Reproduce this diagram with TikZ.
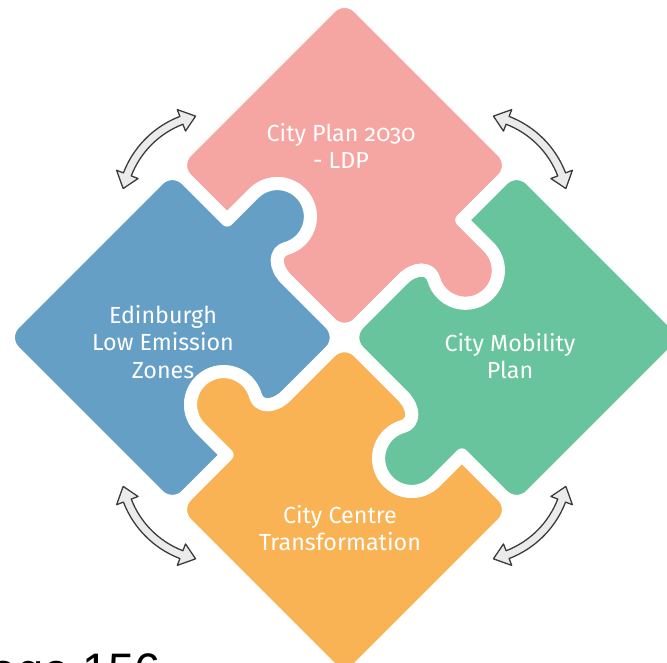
\documentclass[tikz,border=0pt]{standalone}
\usepackage{fontspec}
\setmainfont{Fira Sans}
\newfontfamily\arialfont{Liberation Sans}
\definecolor{pinkP}{HTML}{F5A6A3}
\definecolor{blueP}{HTML}{669FC5}
\definecolor{greenP}{HTML}{68C49C}
\definecolor{orangeP}{HTML}{F9B254}
\definecolor{arrowfill}{HTML}{EBEBEB}
\definecolor{arrowline}{HTML}{3C3C3C}
\tikzset{
  piecefill/.style={draw=white, line width=13pt, line join=round},
  label/.style={text=white, align=center, inner sep=0pt, font=\fontsize{23.3}{27.5}\selectfont},
  cyclearrow/.style={fill=arrowfill, draw=arrowline, line width=1.3pt, line join=round}
}
\begin{document}
\begin{tikzpicture}[x=1pt,y=1pt]
\useasboundingbox (0,0) rectangle (667,663);
\fill[white] (0,0) rectangle (667,663);
% puzzle pieces
\foreach \ang/\col in {45/pinkP,135/blueP,225/orangeP,315/greenP}{
  \begin{scope}[shift={(344.5,325.5)}, rotate=\ang]
    \path[piecefill, fill=\col]
      (30,0) -- (82,0) .. controls (100,0) and (110,-11) .. (104.4,-21.5)
      arc[start angle=150, end angle=360, radius=33pt]
      -- (166,0) -- (223.5,0)
      arc[start angle=-90, end angle=0, radius=20pt]
      -- (243.5,223.5)
      arc[start angle=0, end angle=90, radius=20pt]
      -- (20,243.5)
      arc[start angle=90, end angle=180, radius=20pt]
      -- (0,166) -- (38,166)
      arc[start angle=90, end angle=-120, radius=33pt]
      .. controls (11,110) and (0,100) .. (0,82)
      -- (0,20)
      arc[start angle=180, end angle=270, radius=20pt]
      -- cycle;
  \end{scope}
}
% cycle arrows
\foreach \k in {0,90,180,270}{
  \begin{scope}[shift={(344.5,325.5)}, rotate=\k, shift={(135:183pt)}, rotate=45]
    \path[cyclearrow]
      (66:98.2pt) arc[start angle=66, end angle=114, radius=98.2pt]
      -- (114:105.5pt) -- (123:94pt) -- (114:82.5pt) -- (114:89.8pt)
      arc[start angle=114, end angle=66, radius=89.8pt]
      -- (66:82.5pt) -- (57:94pt) -- (66:105.5pt) -- cycle;
  \end{scope}
}
% labels
\node[label] (plan) at (341,517) {City Plan {\addfontfeature{Numbers=OldStyle}2030}\\- LDP};
\node[label] (lez) at (163,321) {Edinburgh\\Low Emission\\Zones};
\node[label] (cmp) at (510,307) {City Mobility\\Plan};
\node[label] (cct) at (340,135) {City Centre\\Transformation};
\node[anchor=base east, inner sep=0pt, font=\arialfont\fontsize{47}{54}\selectfont] (page) at (161,-23.7) {Page 156};
\end{tikzpicture}
\end{document}
